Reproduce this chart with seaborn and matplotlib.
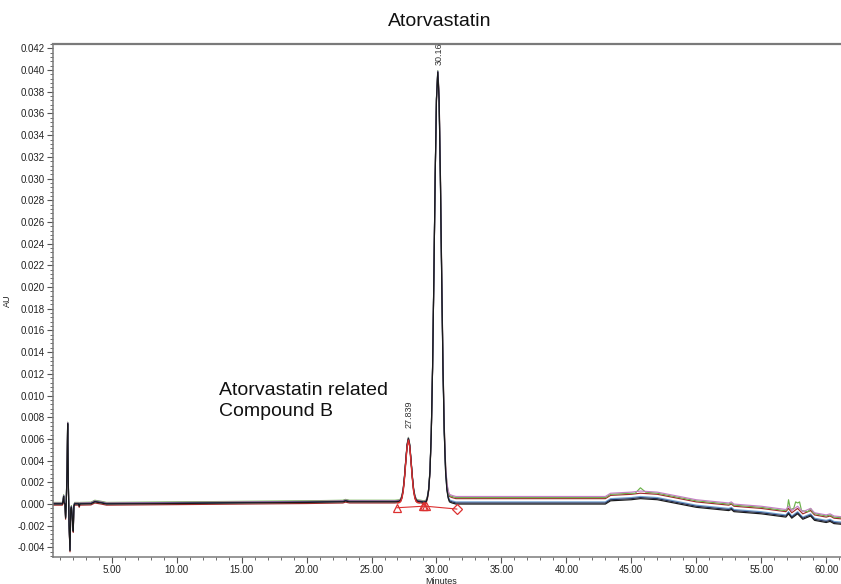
import matplotlib
matplotlib.use("Agg")
import matplotlib.pyplot as plt
import numpy as np
import pandas as pd
import seaborn as sns
from matplotlib.ticker import MultipleLocator, FormatStrFormatter

# %% data (minutes, AU)
# shared trace shape (lowest injection), incl. solvent front and both peaks
time_min = [
    0.50, 1.20, 1.26, 1.30, 1.34, 1.40, 1.45, 1.50, 1.56, 1.61, 1.66, 1.72,
    1.79, 1.85, 1.90, 1.95, 2.00, 2.04, 2.09, 2.15, 2.45, 2.50, 2.55, 3.40,
    3.70, 4.20, 4.60, 10.0, 15.0, 20.0, 22.8, 23.0, 23.3, 26.8,
    27.14, 27.24, 27.34, 27.44, 27.54, 27.64, 27.74, 27.84, 27.94, 28.04,
    28.14, 28.24, 28.34, 28.44, 28.54, 28.8, 29.0,
    29.2, 29.3, 29.4, 29.5, 29.6, 29.7, 29.8, 29.9, 30.0, 30.1, 30.2, 30.3,
    30.4, 30.5, 30.6, 30.7, 30.8, 30.9, 31.0, 31.2,
    31.5, 35.0, 40.0, 43.0, 43.4, 45.0, 45.7, 47.0, 50.0, 52.5, 52.7, 52.9,
    55.0, 56.9, 57.1, 57.35, 57.8, 58.2, 58.8, 59.1, 60.0, 60.3, 60.6, 61.5,
]
base_au = [
    0.0, 0.0, 0.0003, 0.0007, 0.0001, 0.0, -0.0013, 0.0, 0.0030, 0.0074,
    0.0020, -0.0020, -0.0043, -0.0005, -0.0003, -0.0010, -0.0018, -0.0025,
    -0.0002, 0.0, 0.0, -0.0002, 0.0, 0.00002,
    0.0002, 0.0001, 0.0, 0.00005, 0.0001, 0.00015, 0.0002, 0.00028, 0.0002, 0.0002,
    0.00024, 0.00034, 0.00064, 0.0013, 0.0025, 0.0040, 0.0054, 0.0060, 0.0054,
    0.0040, 0.0025, 0.0013, 0.00064, 0.00034, 0.00024, 0.0002, 0.00015,
    0.0002, 0.00055, 0.0013, 0.0030, 0.0065, 0.0125, 0.0209, 0.0301, 0.0373,
    0.0398, 0.0373, 0.0301, 0.0209, 0.0125, 0.0065, 0.0030, 0.0013, 0.00055,
    0.0002, 0.0001,
    0.0, 0.0, 0.0, 0.0, 0.0003, 0.0004, 0.0005, 0.0004, -0.0003, -0.0006,
    -0.0005, -0.0007, -0.0009, -0.0012, -0.0009, -0.0013, -0.0009, -0.0014,
    -0.0011, -0.0015, -0.0017, -0.0016, -0.0018, -0.0019,
]

# drawing order: first name ends up at the bottom
trace_names = ["inj 6", "inj 3", "inj 4", "inj 5", "inj 2", "inj 1"]
trace_colors = ["#9e2a2a", "#6fa3d2", "#6cb24a", "#c47fc4", "#27335f", "#1a1a1a"]
offset_early = [-0.0001, 0.0001, 0.00015, 0.0001, 0.00005, 0.0]
offset_late = [0.0005, 0.0002, 0.0006, 0.0007, 0.0001, 0.0]

# extra small peaks seen only on the green injection (absolute AU)
green_t = [45.3, 45.7, 46.1, 56.8, 57.0, 57.1, 57.25, 57.5, 57.65, 57.8,
           57.95, 58.1, 58.6, 58.8, 59.0, 59.2]
green_au = [0.0010, 0.0015, 0.0011, -0.0006, -0.0005, 0.0004, -0.0005,
            -0.0004, 0.0002, 0.0001, 0.0002, -0.0006, -0.0007, -0.0004,
            -0.0008, -0.0009]

# integrated peak (red) and integration marks
integ_t = [27.0, 27.14, 27.24, 27.34, 27.44, 27.54, 27.64, 27.74, 27.84,
           27.94, 28.04, 28.14, 28.24, 28.34, 28.44, 28.54, 28.7]
integ_au = [0.0001, 0.00014, 0.00024, 0.00054, 0.0012, 0.0024, 0.0039,
            0.0053, 0.0059, 0.0053, 0.0039, 0.0024, 0.0012, 0.00054,
            0.00024, 0.00014, 0.0001]
mark_t = [26.94, 28.96, 29.05, 29.2, 31.58]
mark_au = [-0.00034, -0.0002, -0.0002, -0.0002, -0.00046]

peak_rt = [27.839, 30.16]
peak_top = [0.0070, 0.0405]
peak_labels = ["27.839", "30.16"]

# %% build long table
rows = []
for name, oe, ol in zip(trace_names, offset_early, offset_late):
    pts = []
    for t, a in zip(time_min, base_au):
        if name == "inj 4" and (45.2 <= t <= 46.2 or 56.7 <= t <= 59.3):
            continue
        pts.append((t, a + (oe if t <= 30.1 else ol)))
    if name == "inj 4":
        pts += list(zip(green_t, green_au))
    pts.sort()
    rows += [(name, t, a) for t, a in pts]
df = pd.DataFrame(rows, columns=["trace", "Minutes", "AU"])

# %% plot
sns.set_style("ticks")
plt.rcParams["font.family"] = ["Liberation Sans", "DejaVu Sans"]

fig = plt.figure(figsize=(8.41, 5.84), dpi=100)
ax = fig.add_axes([0.063, 0.0462, 0.937, 0.8784])

sns.lineplot(
    data=df, x="Minutes", y="AU", hue="trace", hue_order=trace_names,
    palette=trace_colors, estimator=None, sort=False, legend=False,
    lw=0.85, ax=ax,
)

red = "#dc3030"
ax.plot(integ_t, integ_au, color=red, lw=1.0)
ax.plot(mark_t, mark_au, color=red, lw=0.8)
ax.plot(mark_t[:4], mark_au[:4], ls="none", marker="^", ms=6, mfc="none",
        mec=red, mew=0.9)
ax.plot(mark_t[4:], mark_au[4:], ls="none", marker="D", ms=5, mfc="none",
        mec=red, mew=0.9)

for rt, top, lab in zip(peak_rt, peak_top, peak_labels):
    ax.text(rt + 0.08, top, lab, rotation=90, fontsize=6.5, ha="center",
            va="bottom", color="#333333", clip_on=False)

ax.text(13.25, 0.0095, "Atorvastatin related\nCompound B", fontsize=14,
        ha="left", va="center", color="#111111", linespacing=1.35)

fig.text(440 / 841, 1 - 22 / 584, "Atorvastatin", fontsize=14, ha="center",
         va="center", color="#111111")

ax.set_xlim(0.48, 61.14)
ax.set_ylim(-0.00488, 0.0424)
ax.xaxis.set_major_locator(MultipleLocator(5))
ax.xaxis.set_minor_locator(MultipleLocator(1))
ax.yaxis.set_major_locator(MultipleLocator(0.002))
ax.yaxis.set_minor_locator(MultipleLocator(0.0004))
ax.xaxis.set_major_formatter(FormatStrFormatter("%.2f"))
ax.yaxis.set_major_formatter(FormatStrFormatter("%.3f"))
ax.tick_params(which="major", length=4, width=0.8, labelsize=7,
               colors="#555555", labelcolor="#222222", pad=2)
ax.tick_params(which="minor", length=2.5, width=0.6, colors="#555555")

ax.set_xlabel("Minutes", fontsize=6.5, color="#222222", labelpad=1)
ax.set_ylabel("AU", fontsize=6.5, color="#222222", labelpad=4)
ax.xaxis.set_label_coords((441 - 53) / 788, -0.038)

for side in ["left", "top", "bottom"]:
    ax.spines[side].set_visible(True)
    ax.spines[side].set_color("#7a7a7a")
    ax.spines[side].set_linewidth(1.1)
ax.spines["top"].set_linewidth(1.6)
ax.spines["right"].set_visible(False)

fig.savefig("out.png", dpi=100)
